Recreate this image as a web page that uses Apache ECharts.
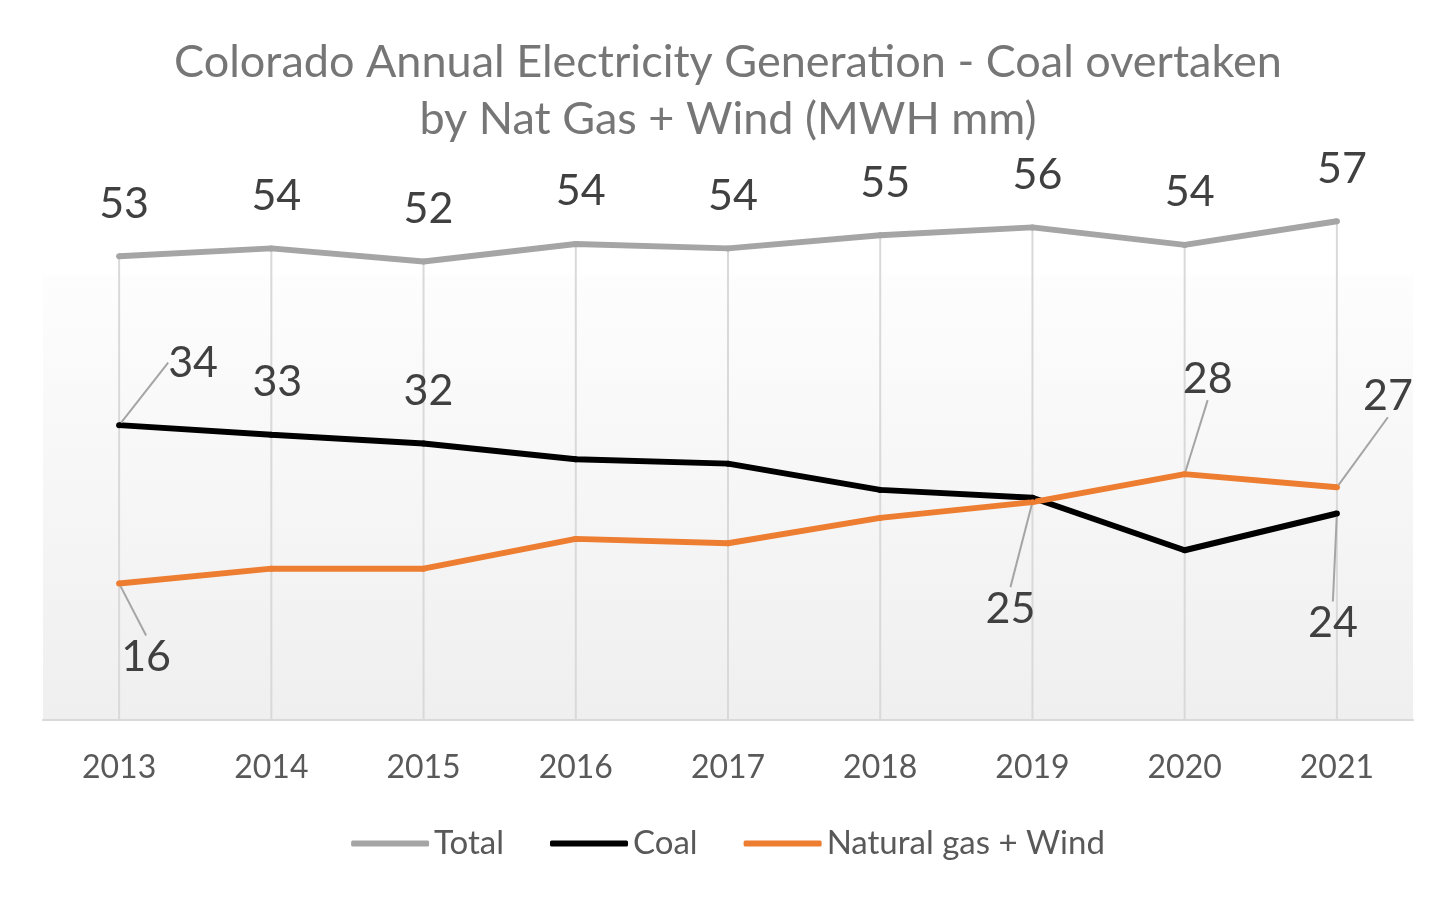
<!DOCTYPE html>
<html>
<head>
<meta charset="utf-8">
<script src="https://cdn.jsdelivr.net/npm/echarts@6/dist/echarts.min.js"></script>
<style>
html,body{margin:0;padding:0;background:#fff;}
#chart{width:1456px;height:908px;}
</style>
</head>
<body>
<div id="chart"></div>
<script>
const years = ['2013','2014','2015','2016','2017','2018','2019','2020','2021'];
const totalValues = [53.0, 53.9, 52.4, 54.4, 53.9, 55.4, 56.3, 54.3, 57.0];
const coalValues  = [33.7, 32.6, 31.6, 29.8, 29.3, 26.3, 25.4, 19.4, 23.6];
const gasWindValues = [15.6, 17.3, 17.3, 20.7, 20.2, 23.1, 24.9, 28.1, 26.6];
const seriesNames = ['Total', 'Coal', 'Natural gas + Wind'];
const titleText = 'Colorado Annual Electricity Generation - Coal overtaken\nby Nat Gas + Wind (MWH mm)';

// which points carry a data label
const totalLabelIdx = [0,1,2,3,4,5,6,7,8];
const coalLabelIdx = [0,1,2,8];
const gasLabelIdx = [0,6,7,8];
// label shifts (relative to default "top" placement) and leader lines
const labelShift = {
  '2-0': [74, -10, true], '2-1': [6, 0, false], '2-2': [5, 0, false], '2-8': [-4, 162, true],
  '3-0': [27, 126, true], '3-6': [-22, 159, true], '3-7': [23, -43, true], '3-8': [51, -39, true]
};

const FONT = 'Lato';
const labelColor = '#404040';

const chart = echarts.init(document.getElementById('chart'));
const lineLabel = {
  position: 'top',
  distance: 28,
  fontFamily: FONT,
  fontSize: 43,
  color: labelColor,
  formatter: p => Math.round(p.value)
};
const guide = { show: true, lineStyle: { color: '#a5a5a5', width: 2 } };

function lineSeries(name, values, showIdx, color, sIdx) {
  return {
    name: name,
    type: 'line',
    data: values.map((v, i) => {
      const key = sIdx + '-' + i;
      const item = { value: v, label: { show: showIdx.indexOf(i) >= 0 } };
      if (labelShift[key] && labelShift[key][2]) item.labelLine = guide;
      return item;
    }),
    symbol: 'circle',
    symbolSize: 6,
    showSymbol: true,
    clip: false,
    itemStyle: { color: color },
    lineStyle: { color: color, width: 6 },
    label: lineLabel,
    labelLine: { show: false, lineStyle: { color: '#a5a5a5', width: 2 } },
    z: 3
  };
}

chart.setOption({
  animation: false,
  backgroundColor: '#ffffff',
  title: {
    text: titleText,
    left: 'center',
    top: 29,
    textStyle: {
      fontFamily: FONT,
      fontSize: 45,
      fontWeight: 'normal',
      color: '#767676',
      lineHeight: 57
    }
  },
  legend: {
    data: seriesNames,
    bottom: 43,
    left: 'center',
    icon: 'roundRect',
    itemWidth: 78,
    itemHeight: 6,
    itemGap: 46,
    textStyle: { fontFamily: FONT, fontSize: 33, color: '#595959' }
  },
  grid: {
    left: 43, right: 43, top: 195, bottom: 188,
    show: true, borderWidth: 0,
    backgroundColor: new echarts.graphic.LinearGradient(0, 0, 0, 1, [
      { offset: 0, color: '#ffffff' },
      { offset: 0.15, color: '#ffffff' },
      { offset: 0.155, color: '#fdfdfd' },
      { offset: 1, color: '#efefef' }
    ])
  },
  xAxis: {
    type: 'category',
    data: years,
    boundaryGap: true,
    axisLine: { lineStyle: { color: '#d9d9d9', width: 2 } },
    axisTick: { show: false },
    splitLine: { show: false },
    axisLabel: { fontFamily: FONT, fontSize: 32, color: '#595959', margin: 32 }
  },
  yAxis: {
    type: 'value',
    min: 0,
    max: 60,
    show: false,
    splitLine: { show: false }
  },
  labelLayout: function (params) {
    const s = labelShift[params.seriesIndex + '-' + params.dataIndex];
    if (s) return { dx: s[0], dy: s[1] };
    return { dx: 5, dy: 0 };
  },
  series: [
    {
      name: 'drop',
      type: 'bar',
      data: totalValues,
      barWidth: 2,
      silent: true,
      itemStyle: { color: '#d9d9d9' },
      z: 1
    },
    lineSeries('Total', totalValues, totalLabelIdx, '#a5a5a5', 1),
    lineSeries('Coal', coalValues, coalLabelIdx, '#000000', 2),
    lineSeries('Natural gas + Wind', gasWindValues, gasLabelIdx, '#ed7d31', 3)
  ]
});
</script>
</body>
</html>
